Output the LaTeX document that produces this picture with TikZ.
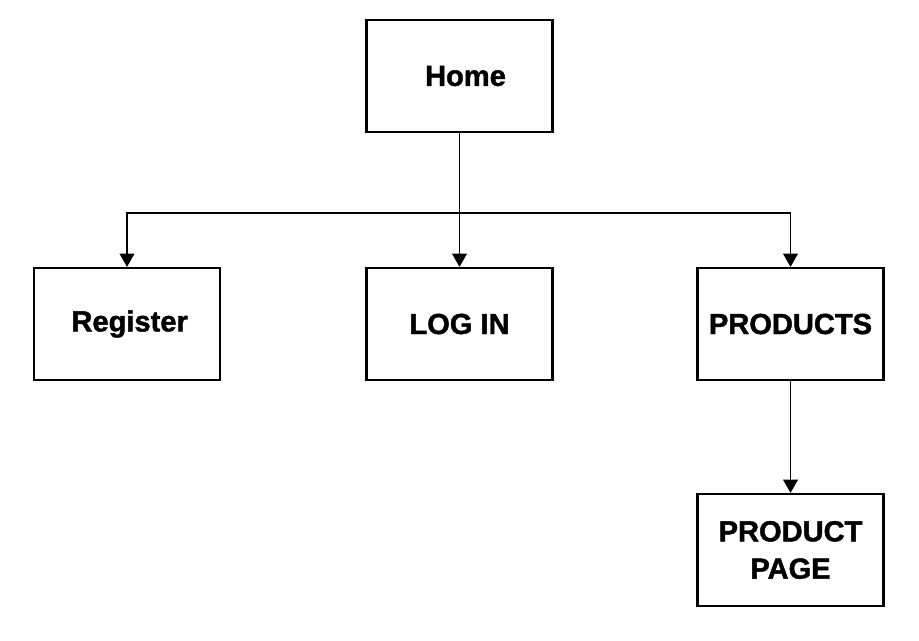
\documentclass[tikz,border=0pt]{standalone}
\usepackage{fontspec}
\setmainfont{Liberation Sans}
\newfontfamily\heavyfont{Liberation Sans Bold}[FakeBold=1.5]
\usetikzlibrary{arrows.meta}
\begin{document}
\begin{tikzpicture}[x=0.75pt,y=-0.75pt,
  pagebox/.style={draw=black,line width=1.6pt,minimum width=186*0.75pt,minimum height=112*0.75pt,inner sep=0pt,align=center,font=\heavyfont\fontsize{21.8}{28}\selectfont},
  link/.style={draw=black,line width=1.3pt,-{Triangle[width=11pt,length=10pt]}}]
\useasboundingbox[fill=white] (0,0) rectangle (919,640);
\node[pagebox] (home) at (459.5,76) {\hspace*{9pt}Home};
\node[pagebox] (reg) at (127,324) {\hspace*{4pt}Register};
\node[pagebox] (login) at (459.5,324) {LOG IN};
\node[pagebox] (prod) at (790.5,324) {PRODUCTS};
\node[pagebox] (page) at (790.5,550) {PRODUCT\\PAGE};
\coordinate (j) at (459.5,213);
\draw[line width=1.3pt] (home.south) -- (j);
\draw[link] (j) -| (reg.north);
\draw[link] (j) -- (login.north);
\draw[link] (j) -| (prod.north);
\draw[link] (prod.south) -- (page.north);
\end{tikzpicture}
\end{document}
